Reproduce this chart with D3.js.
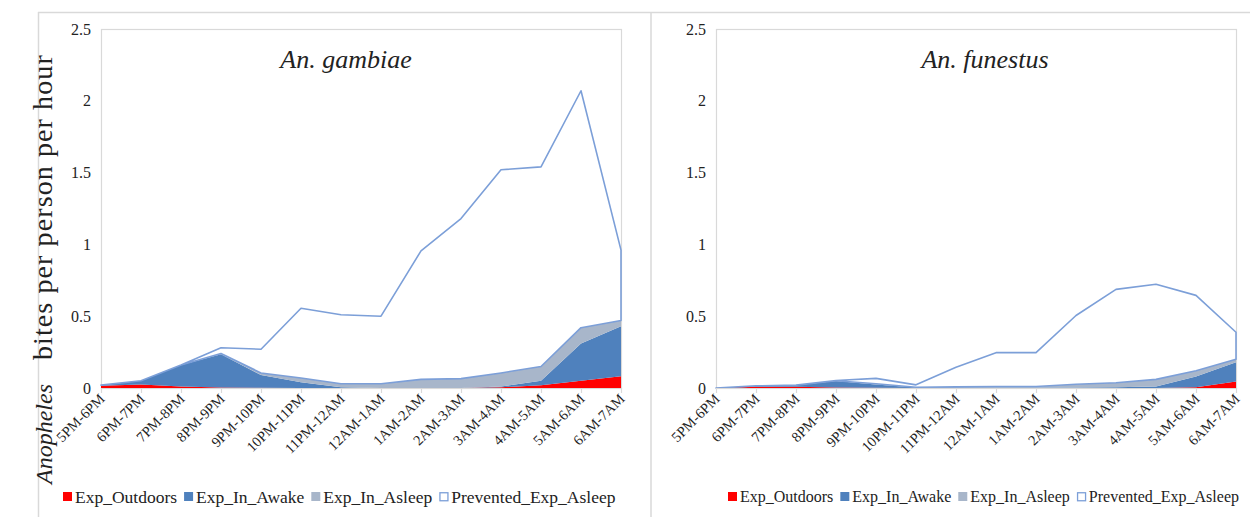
<!DOCTYPE html>
<html>
<head>
<meta charset="utf-8">
<script src="https://cdn.jsdelivr.net/npm/d3@7"></script>
<style>
  html, body { margin: 0; padding: 0; background: #ffffff; }
  svg { display: block; }
</style>
</head>
<body>
<svg id="chart" width="1250" height="517"></svg>
<script>
// Hour bins along the x axis
const categories = ["5PM-6PM","6PM-7PM","7PM-8PM","8PM-9PM","9PM-10PM","10PM-11PM","11PM-12AM",
                    "12AM-1AM","1AM-2AM","2AM-3AM","3AM-4AM","4AM-5AM","5AM-6AM","6AM-7AM"];
const yTicks = [0, 0.5, 1, 1.5, 2, 2.5];
const seriesNames = ["Exp_Outdoors","Exp_In_Awake","Exp_In_Asleep","Prevented_Exp_Asleep"];

// An. gambiae — bites per person per hour, stacked components
const gambiaeOutdoors  = [0.015,0.025,0.010,0.003,0.002,0,0,0,0,0,0.005,0.020,0.050,0.082];
const gambiaeInAwake   = [0.005,0.025,0.150,0.232,0.088,0.040,0.005,0,0,0,0.005,0.030,0.260,0.348];
const gambiaeInAsleep  = [0,0,0,0.005,0.015,0.030,0.025,0.030,0.060,0.065,0.095,0.100,0.110,0.040];
const gambiaePrevented = [0,0,0,0.040,0.165,0.485,0.480,0.470,0.895,1.115,1.415,1.390,1.650,0.490];

// An. funestus — bites per person per hour, stacked components
const funestusOutdoors  = [0,0.008,0.008,0.003,0.001,0,0,0,0,0,0,0,0.005,0.045];
const funestusInAwake   = [0,0.006,0.012,0.045,0.024,0.003,0.003,0.003,0.003,0.004,0.005,0.010,0.075,0.135];
const funestusInAsleep  = [0,0,0,0.002,0.005,0.002,0.005,0.007,0.007,0.022,0.032,0.050,0.040,0.020];
const funestusPrevented = [0,0.001,0,0.002,0.037,0.017,0.137,0.236,0.236,0.479,0.650,0.663,0.525,0.188];

const colors = {
  "Exp_Outdoors": "#ff0000",
  "Exp_In_Awake": "#4f81bd",
  "Exp_In_Asleep": "#a8b6ca",
  "Prevented_Exp_Asleep": "#ffffff"
};
const outlineColor = "#7c9fd8";
const frameColor = "#d9d9d9";
const serif = "'Liberation Serif', 'Times New Roman', serif";
const inkColor = "#222";

const svg = d3.select("#chart");

// outer chart frames
svg.append("line").attr("x1", 38).attr("x2", 1250).attr("y1", 12.5).attr("y2", 12.5)
  .attr("stroke", frameColor).attr("stroke-width", 1.5);
svg.append("line").attr("x1", 38.5).attr("x2", 38.5).attr("y1", 12).attr("y2", 517)
  .attr("stroke", frameColor).attr("stroke-width", 1.5);
svg.append("line").attr("x1", 651).attr("x2", 651).attr("y1", 12).attr("y2", 517)
  .attr("stroke", frameColor).attr("stroke-width", 1.5);

// shared y-axis title (reads bottom to top)
svg.append("text")
  .attr("transform", "translate(52,484) rotate(-90)")
  .attr("text-anchor", "start")
  .attr("fill", inkColor)
  .style("font-family", serif)
  .call(t => {
    t.append("tspan").style("font-style", "italic").style("font-size", "24px").text("Anopheles");
    t.append("tspan").attr("dx", 24).style("font-size", "28px").style("letter-spacing", "1.1px")
      .text("bites per person per hour");
  });

function drawPanel(opt) {
  const rows = categories.map((c, i) => ({
    cat: c,
    "Exp_Outdoors": opt.outdoors[i],
    "Exp_In_Awake": opt.awake[i],
    "Exp_In_Asleep": opt.asleep[i],
    "Prevented_Exp_Asleep": opt.prevented[i]
  }));

  const x = d3.scalePoint().domain(categories).range([opt.left, opt.right]);
  const y = d3.scaleLinear().domain([0, 2.5]).range([388, 29]);

  const g = svg.append("g");

  // plot-area border
  g.append("rect")
    .attr("x", opt.left + 0.5).attr("y", 29.5)
    .attr("width", opt.right - opt.left).attr("height", 388 - 29)
    .attr("fill", "none").attr("stroke", frameColor).attr("stroke-width", 1.2);

  const stacked = d3.stack().keys(seriesNames)(rows);
  const area = d3.area()
    .x(d => x(d.data.cat))
    .y0(d => y(d[0]))
    .y1(d => y(d[1]));

  g.selectAll("path.layer")
    .data(stacked)
    .join("path")
    .attr("class", "layer")
    .attr("d", area)
    .attr("fill", d => colors[d.key])
    .attr("stroke", d => d.key === "Prevented_Exp_Asleep" ? outlineColor : "none")
    .attr("stroke-width", 1.6)
    .attr("stroke-linejoin", "round");

  // x axis
  const xAxis = g.append("g")
    .attr("transform", "translate(0,388)")
    .call(d3.axisBottom(x).tickSize(5).tickSizeOuter(0).tickFormat(""));
  xAxis.select(".domain").attr("stroke", frameColor).attr("stroke-width", 1.2);
  xAxis.selectAll(".tick line").attr("stroke", frameColor).attr("stroke-width", 1.2);

  g.selectAll("text.xlab")
    .data(categories)
    .join("text")
    .attr("class", "xlab")
    .attr("transform", d => `translate(${x(d) + 1},${396}) rotate(-45)`)
    .attr("text-anchor", "end")
    .attr("dy", "0.35em")
    .attr("fill", inkColor)
    .style("font-family", serif)
    .style("font-size", "14.5px")
    .text(d => d);

  // y axis labels
  const yAxis = g.append("g")
    .attr("transform", `translate(${opt.left},0)`)
    .call(d3.axisLeft(y).tickValues(yTicks).tickSize(0).tickPadding(10)
      .tickFormat(d => String(d)));
  yAxis.select(".domain").remove();
  yAxis.selectAll("text")
    .style("font-family", serif)
    .style("font-size", "16px")
    .attr("fill", inkColor);

  // panel title
  g.append("text")
    .attr("x", opt.titleX).attr("y", 68)
    .attr("text-anchor", "middle")
    .attr("fill", inkColor)
    .style("font-family", serif)
    .style("font-size", "26px").style("font-style", "italic")
    .text(opt.title);

  // legend
  const lg = g.append("g").attr("transform", `translate(${opt.legendX},497)`);
  let cx = 0;
  seriesNames.forEach(name => {
    const item = lg.append("g").attr("transform", `translate(${cx},0)`);
    if (name === "Prevented_Exp_Asleep") {
      item.append("rect").attr("x", 0.75).attr("y", -4.25).attr("width", 8).attr("height", 8)
        .attr("fill", "#fff").attr("stroke", outlineColor).attr("stroke-width", 1.3);
    } else {
      item.append("rect").attr("x", 0).attr("y", -5).attr("width", 9).attr("height", 9)
        .attr("fill", colors[name]);
    }
    const t = item.append("text").attr("x", 12).attr("y", 0).attr("dy", "0.33em")
      .attr("fill", inkColor)
      .style("font-family", serif)
      .style("font-size", opt.legendSize + "px").text(name);
    cx += 12 + t.node().getComputedTextLength() + 7;
  });
}

drawPanel({
  title: "An. gambiae", titleX: 346, left: 101, right: 621, legendX: 63, legendSize: 17.5,
  outdoors: gambiaeOutdoors, awake: gambiaeInAwake, asleep: gambiaeInAsleep, prevented: gambiaePrevented
});
drawPanel({
  title: "An. funestus", titleX: 985, left: 716, right: 1236, legendX: 728, legendSize: 16,
  outdoors: funestusOutdoors, awake: funestusInAwake, asleep: funestusInAsleep, prevented: funestusPrevented
});
</script>
</body>
</html>
